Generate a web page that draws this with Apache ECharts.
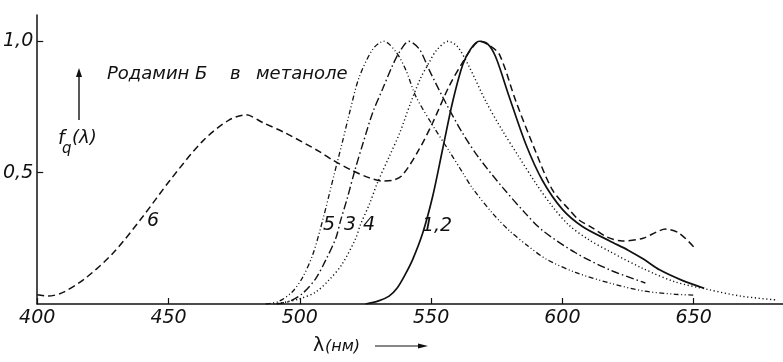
<!DOCTYPE html>
<html>
<head>
<meta charset="utf-8">
<script src="https://cdn.jsdelivr.net/npm/echarts@6/dist/echarts.min.js"></script>
<style>
  html, body { margin: 0; padding: 0; background: #fff; }
  #main { width: 783px; height: 362px; }
</style>
</head>
<body>
<div id="main"></div>
<script>
// wavelength (nm), f_q(lambda)
const curve12 = [[525, 0], [530, 0.012], [534, 0.03], [537, 0.06], [540, 0.11], [543, 0.17], [546.8, 0.27],
  [550.6, 0.41], [554.4, 0.59], [558.2, 0.77], [562, 0.91], [565, 0.97], [568.3, 1.0], [571.5, 0.99],
  [574.6, 0.94], [579.7, 0.79], [586, 0.61], [592.4, 0.47], [600, 0.36], [607.6, 0.295], [618, 0.24],
  [625, 0.205], [631, 0.17], [637, 0.13], [645.6, 0.09], [654, 0.06]]
const curve3 = [[491, 0], [496, 0.01], [501, 0.04], [506, 0.096], [510, 0.17], [513.7, 0.25], [515.6, 0.32],
  [518, 0.4], [521, 0.51], [524, 0.61], [527.8, 0.73], [531.6, 0.82], [535.4, 0.91], [538, 0.96], [541.5, 1.0],
  [545.5, 0.97], [549.3, 0.89], [555.6, 0.765], [562, 0.65], [568.3, 0.555], [577.2, 0.444], [586, 0.344],
  [592.4, 0.28], [605, 0.195], [618, 0.13], [631.6, 0.08]]
const curve4 = [[490, 0], [495, 0.008], [500, 0.02], [506, 0.045], [511, 0.09], [516, 0.15], [521.3, 0.25],
  [523, 0.3], [526.5, 0.38], [529.5, 0.46], [534, 0.56], [538, 0.65], [542, 0.76], [546, 0.86], [549.3, 0.92],
  [552, 0.965], [556.5, 1.0], [560, 0.98], [564.4, 0.905], [570.8, 0.772], [577.2, 0.659], [583.5, 0.559],
  [589.9, 0.459], [596.2, 0.371], [602.5, 0.3], [610, 0.245], [618, 0.2], [630.7, 0.135], [643, 0.084],
  [656, 0.054], [668, 0.03], [682, 0.015]]
const curve5 = [[487, 0], [492, 0.01], [497, 0.045], [501, 0.1], [505, 0.19], [509, 0.33], [513, 0.49],
  [516.3, 0.62], [519, 0.73], [522.5, 0.86], [527.8, 0.97], [532, 1.0], [536.6, 0.96], [540.4, 0.89],
  [544.2, 0.79], [550.6, 0.68], [557, 0.58], [562, 0.5], [565.8, 0.44], [573.4, 0.345], [579.7, 0.28],
  [587, 0.22], [594, 0.17], [605, 0.12], [618, 0.08], [630.7, 0.05], [643, 0.037], [650, 0.034]]
const curve6 = [[400, 0.035], [404, 0.03], [410, 0.045], [418.6, 0.1], [429, 0.195], [440, 0.33], [450.5, 0.47],
  [463, 0.62], [473, 0.7], [479.5, 0.72], [486, 0.69], [494.7, 0.65], [507.5, 0.58], [512.5, 0.548],
  [520, 0.508], [526, 0.482], [531.6, 0.468], [535, 0.47], [539, 0.49], [545.5, 0.59], [550.6, 0.69],
  [556.9, 0.83], [562, 0.92], [566, 0.98], [568.5, 1.0], [572, 0.985], [576, 0.95], [582.2, 0.774],
  [589, 0.6], [596.2, 0.434], [602.5, 0.36], [606.3, 0.32], [611.4, 0.29], [617, 0.255], [622.8, 0.24],
  [630.7, 0.25], [636, 0.275], [639.3, 0.285], [644.4, 0.27], [650.7, 0.21]]

const xTicks = [400, 450, 500, 550, 600, 650]
const yTicks = [0.5, 1.0]

const ink = '#111'
const font = '"DejaVu Sans", sans-serif'

function curve(name, data, type, width, z) {
  return {
    name: name,
    type: 'line',
    data: data,
    showSymbol: false,
    smooth: 0.3,
    z: z,
    lineStyle: { color: ink, width: width, type: type }
  }
}

const chart = echarts.init(document.getElementById('main'))

const option = {
  animation: false,
  backgroundColor: '#fff',
  grid: { left: 37, right: 0, top: 15, bottom: 58 },
  xAxis: {
    type: 'value',
    min: 400,
    max: 684,
    splitLine: { show: false },
    axisLine: { lineStyle: { color: ink, width: 1.5 } },
    axisTick: { inside: true, length: 6, customValues: xTicks, lineStyle: { color: ink, width: 1.2 } },
    axisLabel: {
      customValues: xTicks,
      margin: 5,
      color: ink,
      fontStyle: 'italic',
      fontFamily: font,
      fontSize: 19
    }
  },
  yAxis: {
    type: 'value',
    min: 0,
    max: 1.1,
    splitLine: { show: false },
    axisLine: { lineStyle: { color: ink, width: 1.5 } },
    axisTick: { inside: true, length: 6, customValues: yTicks, lineStyle: { color: ink, width: 1.2 } },
    axisLabel: {
      customValues: yTicks,
      margin: 4,
      padding: [6, 0, 0, 0],
      color: ink,
      fontStyle: 'italic',
      fontFamily: font,
      fontSize: 19,
      formatter: v => v.toFixed(1).replace('.', ',')
    }
  },
  series: [
    curve('6', curve6, [7, 4], 1.5, 2),
    curve('5', curve5, [5, 2.5, 1, 2.5, 1, 2.5], 1.3, 3),
    curve('3', curve3, [8, 3, 1.5, 3], 1.4, 4),
    curve('4', curve4, [1.2, 2.6], 1.4, 5),
    curve('1,2', curve12, 'solid', 1.7, 6)
  ],
  graphic: [
    // title
    { type: 'text', x: 107, y: 74, style: { text: 'Родамин Б', font: 'italic 18px ' + font, fill: ink, textVerticalAlign: 'middle' } },
    { type: 'text', x: 230, y: 74, style: { text: 'в', font: 'italic 18px ' + font, fill: ink, textVerticalAlign: 'middle' } },
    { type: 'text', x: 256, y: 74, style: { text: 'метаноле', font: 'italic 18px ' + font, fill: ink, textVerticalAlign: 'middle' } },
    // vertical arrow and f_q(λ)
    { type: 'line', shape: { x1: 79, y1: 120, x2: 79, y2: 74 }, style: { stroke: ink, lineWidth: 1.4 } },
    { type: 'polygon', shape: { points: [[79, 68], [76, 77], [82, 77]] }, style: { fill: ink } },
    { type: 'text', x: 58, y: 139, style: { text: 'f', font: 'italic 19px ' + font, fill: ink, textVerticalAlign: 'middle' } },
    { type: 'text', x: 62, y: 149, style: { text: 'q', font: 'italic 15px ' + font, fill: ink, textVerticalAlign: 'middle' } },
    { type: 'text', x: 72, y: 138, style: { text: '(λ)', font: 'italic 18px ' + font, fill: ink, textVerticalAlign: 'middle' } },
    // curve numbers
    { type: 'text', x: 153, y: 221, style: { text: '6', font: 'italic 19px ' + font, fill: ink, textAlign: 'center', textVerticalAlign: 'middle' } },
    { type: 'text', x: 329, y: 225, style: { text: '5', font: 'italic 19px ' + font, fill: ink, textAlign: 'center', textVerticalAlign: 'middle' } },
    { type: 'text', x: 350, y: 225, style: { text: '3', font: 'italic 19px ' + font, fill: ink, textAlign: 'center', textVerticalAlign: 'middle' } },
    { type: 'text', x: 369, y: 225, style: { text: '4', font: 'italic 19px ' + font, fill: ink, textAlign: 'center', textVerticalAlign: 'middle' } },
    { type: 'text', x: 437, y: 226, style: { text: '1,2', font: 'italic 19px ' + font, fill: ink, textAlign: 'center', textVerticalAlign: 'middle' } },
    // x axis name with arrow
    { type: 'text', x: 313, y: 346, style: { text: 'λ', font: '19px ' + font, fill: ink, textVerticalAlign: 'middle' } },
    { type: 'text', x: 325, y: 347, style: { text: '(нм)', font: 'italic 16px ' + font, fill: ink, textVerticalAlign: 'middle' } },
    { type: 'line', shape: { x1: 375, y1: 346, x2: 420, y2: 346 }, style: { stroke: ink, lineWidth: 1.2 } },
    { type: 'polygon', shape: { points: [[428, 346], [418, 343.5], [418, 348.5]] }, style: { fill: ink } }
  ]
}

chart.setOption(option)
</script>
</body>
</html>
